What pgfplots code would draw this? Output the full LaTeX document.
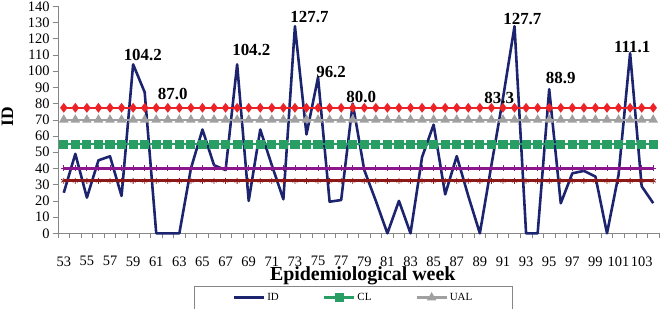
\documentclass[border=0pt]{standalone}
\usepackage{fontspec}
\setmainfont{Liberation Serif}
\usepackage{pgfplots}
\usepackage{pgfplotstable}
\pgfplotsset{compat=1.18}
\definecolor{idblue}{RGB}{28,36,112}
\definecolor{ucl}{RGB}{236,34,38}
\definecolor{ual}{RGB}{160,160,160}
\definecolor{cl}{RGB}{40,158,100}
\definecolor{pur}{RGB}{140,22,140}
\definecolor{dred}{RGB}{140,24,24}
\definecolor{axgray}{RGB}{134,134,134}

\pgfplotstableread{
w id r u c p d
53 25 77.4 70 55 40 32.4
54 49 77.4 70 55 40 32.4
55 22 77.4 70 55 40 32.4
56 45 77.4 70 55 40 32.4
57 47.5 77.4 70 55 40 32.4
58 23 77.4 70 55 40 32.4
59 104.2 77.4 70 55 40 32.4
60 87.0 77.4 70 55 40 32.4
61 0 77.4 70 55 40 32.4
62 0 77.4 70 55 40 32.4
63 0 77.4 70 55 40 32.4
64 40 77.4 70 55 40 32.4
65 64 77.4 70 55 40 32.4
66 42 77.4 70 55 40 32.4
67 39 77.4 70 55 40 32.4
68 104.2 77.4 70 55 40 32.4
69 20 77.4 70 55 40 32.4
70 64 77.4 70 55 40 32.4
71 42 77.4 70 55 40 32.4
72 21 77.4 70 55 40 32.4
73 127.7 77.4 70 55 40 32.4
74 61 77.4 70 55 40 32.4
75 96.2 77.4 70 55 40 32.4
76 19.5 77.4 70 55 40 32.4
77 20.5 77.4 70 55 40 32.4
78 80.0 77.4 70 55 40 32.4
79 39 77.4 70 55 40 32.4
80 20 77.4 70 55 40 32.4
81 0 77.4 70 55 40 32.4
82 20 77.4 70 55 40 32.4
83 0 77.4 70 55 40 32.4
84 47 77.4 70 55 40 32.4
85 67 77.4 70 55 40 32.4
86 24 77.4 70 55 40 32.4
87 47.6 77.4 70 55 40 32.4
88 23 77.4 70 55 40 32.4
89 0 77.4 70 55 40 32.4
90 42 77.4 70 55 40 32.4
91 83.3 77.4 70 55 40 32.4
92 127.7 77.4 70 55 40 32.4
93 0 77.4 70 55 40 32.4
94 0 77.4 70 55 40 32.4
95 88.9 77.4 70 55 40 32.4
96 18.5 77.4 70 55 40 32.4
97 37 77.4 70 55 40 32.4
98 38.5 77.4 70 55 40 32.4
99 35 77.4 70 55 40 32.4
100 0 77.4 70 55 40 32.4
101 36 77.4 70 55 40 32.4
102 111.1 77.4 70 55 40 32.4
103 29 77.4 70 55 40 32.4
104 18.6 77.4 70 55 40 32.4
}\data

\newcommand{\lbl}{\fontsize{17}{19}\selectfont\bfseries}

\begin{document}
\begin{tikzpicture}
\begin{axis}[
  scale only axis, width=601bp, height=227bp,
  xmin=52.5, xmax=104.5, ymin=0, ymax=140,
  axis lines*=left,
  axis line style={axgray, line width=0.8pt},
  xtick={53,55,...,103},
  minor xtick={52.5,53.5,...,104.5},
  major x tick style={draw=none},
  minor x tick style={axgray, line width=0.6pt},
  ytick={0,10,...,140},
  y tick style={axgray, line width=0.6pt},
  tick align=outside,
  major tick length=5bp, minor tick length=5bp,
  tick label style={font=\fontsize{14.5}{16}\selectfont, text=black},
  xticklabel style={inner sep=1bp, yshift=-17bp},
  /pgf/number format/assume math mode=true,
  xlabel={Epidemiological week},
  xlabel style={font=\fontsize{20}{22}\selectfont\bfseries, at={(axis description cs:0.507,0)}, anchor=north, inner sep=0pt, yshift=-33.5bp},
  ylabel={ID},
  ylabel style={font=\fontsize{17.5}{19}\selectfont\bfseries, at={(axis description cs:-0.084,0.515)}, anchor=center, inner sep=0pt},
  legend image code/.code={\draw[mark repeat=2, mark phase=2, #1] plot coordinates {(0bp,0bp) (15bp,0bp) (30bp,0bp)};},
  legend columns=3,
  legend style={at={(axis description cs:0.227,-0.232)}, anchor=north west,
    draw=axgray, line width=0.6pt, font=\fontsize{11}{12}\selectfont,
    inner xsep=38bp, inner ysep=5bp,
    /tikz/every even column/.append style={column sep=42bp}},
  clip=false,
]
\addplot[idblue, line width=2.6pt, line join=round, no markers] table[x=w, y=id] {\data};
\addlegendentry{ID}
\addplot[cl, line width=2.6pt, mark=square*, mark size=3.3pt, mark options={solid}] table[x=w, y=c] {\data};
\addlegendentry{CL}
\addplot[ual, line width=2.4pt, mark=triangle*, mark size=3.2pt] table[x=w, y=u] {\data};
\addlegendentry{UAL}
\addplot[ucl, line width=2.4pt, mark=diamond*, mark size=3pt, forget plot] table[x=w, y=r] {\data};
\addplot[pur, line width=2.4pt, mark=+, mark size=3pt, mark options={line width=0.8pt}, forget plot] table[x=w, y=p] {\data};
\addplot[dred, line width=2.8pt, mark=asterisk, mark size=3pt, mark options={line width=0.8pt}, forget plot] table[x=w, y=d] {\data};

\node[font=\lbl, inner sep=0pt] at (axis cs:59.84,109.8) {104.2};
\node[font=\lbl, inner sep=0pt] at (axis cs:62.43,85.8) {87.0};
\node[font=\lbl, inner sep=0pt] at (axis cs:69.23,112.9) {104.2};
\node[font=\lbl, inner sep=0pt] at (axis cs:74.26,133.4) {127.7};
\node[font=\lbl, inner sep=0pt] at (axis cs:76.13,99.5) {96.2};
\node[font=\lbl, inner sep=0pt] at (axis cs:78.73,84.1) {80.0};
\node[font=\lbl, inner sep=0pt] at (axis cs:90.67,83.3) {83.3};
\node[font=\lbl, inner sep=0pt] at (axis cs:92.68,132.4) {127.7};
\node[font=\lbl, inner sep=0pt] at (axis cs:96.0,95.5) {88.9};
\node[font=\lbl, inner sep=0pt] at (axis cs:102.18,114.9) {111.1};
\end{axis}
\pgfresetboundingbox
\path[use as bounding box] (-58bp,-75.7bp) rectangle (603bp,233.3bp);
\end{tikzpicture}
\end{document}
